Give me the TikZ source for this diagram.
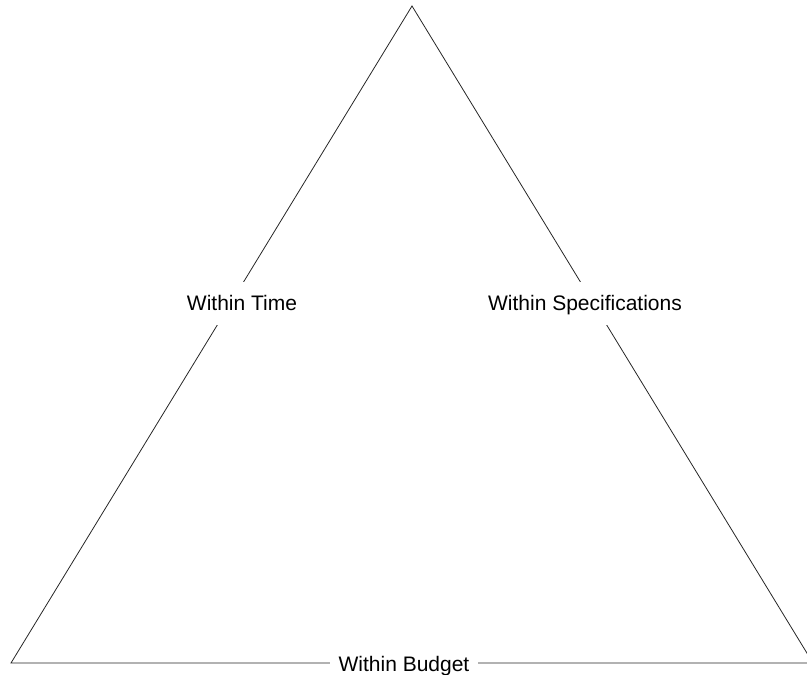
\documentclass[tikz,border=0pt]{standalone}
\usepackage{fontspec}
\setmainfont{Liberation Sans}
\begin{document}
\begin{tikzpicture}[x=1pt,y=-1pt,
  edge/.style={draw=black!85,line width=0.8pt},
  sidelabel/.style={fill=white,anchor=base,inner xsep=2pt,inner ysep=0pt,
    text height=28pt,text depth=15pt,font=\fontsize{21}{25}\selectfont},
  baselabel/.style={fill=white,anchor=base,inner xsep=9pt,inner ysep=2pt,
    font=\fontsize{21}{25}\selectfont}]
  \useasboundingbox (0,0) rectangle (807,675);
  \clip (0,0) rectangle (807,675);
  % corners of the triangle
  \coordinate (apex) at (412,6);
  \coordinate (left) at (11,663);
  \coordinate (right) at (813,663);
  % the three sides
  \draw[edge] (apex) -- (left) -- (right) -- cycle;
  % labels sitting on the sides
  \node[sidelabel] (time) at (242,310) {Within Time};
  \node[sidelabel] (spec) at (585,310) {Within Specifications};
  \node[baselabel] (budget) at (404,671) {Within Budget};
\end{tikzpicture}
\end{document}
